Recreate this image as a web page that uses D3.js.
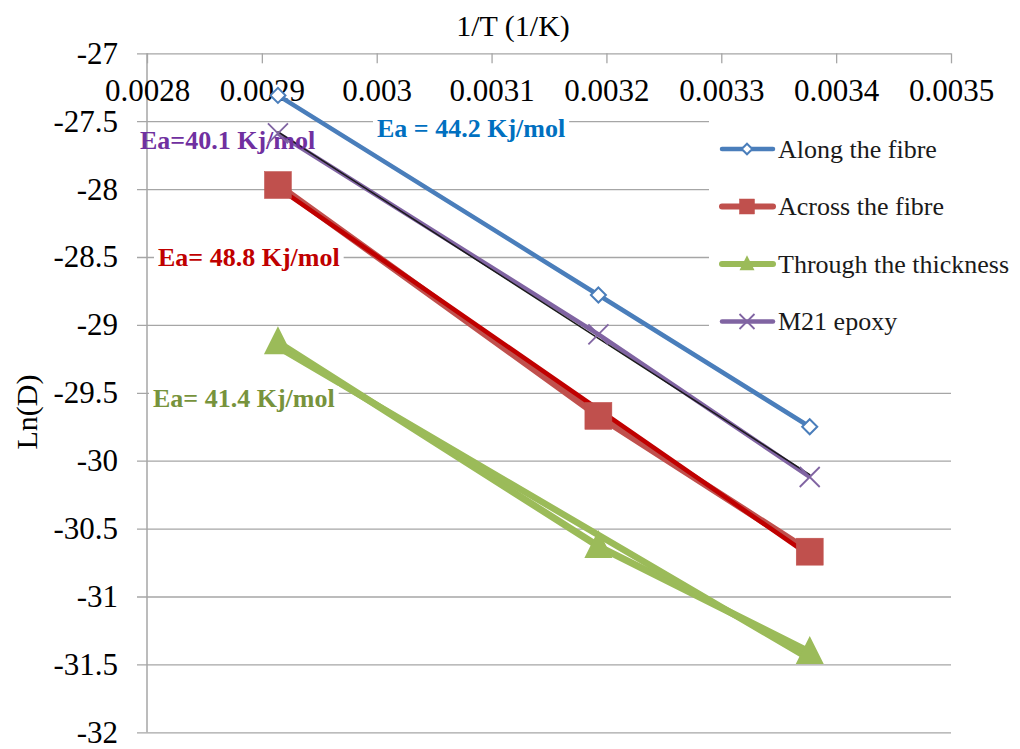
<!DOCTYPE html>
<html>
<head>
<meta charset="utf-8">
<title>Ln(D) vs 1/T</title>
<script src="https://d3js.org/d3.v7.min.js"></script>
<style>
  body { margin: 0; padding: 0; background: #fff; overflow: hidden; }
  svg text { font-family: "Liberation Serif", "Times New Roman", serif; }
</style>
</head>
<body>
<script>
// data
var invT = [0.002914, 0.003193, 0.003377];
var alongFibre = [-27.31, -28.78, -29.75];
var acrossFibre = [-27.97, -29.67, -30.67];
var throughThickness = [-29.13, -30.63, -31.41];
var m21Epoxy = [-27.59, -29.07, -30.12];
var seriesNames = ["Along the fibre", "Across the fibre", "Through the thickness", "M21 epoxy"];
var xTicks = [0.0028, 0.0029, 0.003, 0.0031, 0.0032, 0.0033, 0.0034, 0.0035];
var yTicks = [-27, -27.5, -28, -28.5, -29, -29.5, -30, -30.5, -31, -31.5, -32];
var eaLabels = ["Ea = 44.2 Kj/mol", "Ea= 48.8 Kj/mol", "Ea= 41.4 Kj/mol", "Ea=40.1 Kj/mol"];

var serif = "'Liberation Serif', 'Times New Roman', serif";
var width = 1020, height = 749;
var svg = d3.select("body").append("svg").attr("width", width).attr("height", height);

var x = d3.scaleLinear().domain([0.0028, 0.0035]).range([147, 951]);
var y = d3.scaleLinear().domain([-27, -32]).range([53.3, 732.3]);

var series = [
  { name: seriesNames[0], vals: alongFibre, color: "#4a7ebb", w: 4.5, marker: "diamond", trend: null, label: eaLabels[0], lc: "#0070c0" },
  { name: seriesNames[1], vals: acrossFibre, color: "#c0504d", w: 7, marker: "square", trend: { c: "#c00000", w: 4.5 }, label: eaLabels[1], lc: "#c00000" },
  { name: seriesNames[2], vals: throughThickness, color: "#9bbb59", w: 7, marker: "triangle", trend: { c: "#9bbb59", w: 6.5 }, label: eaLabels[2], lc: "#77933c" },
  { name: seriesNames[3], vals: m21Epoxy, color: "#8064a2", w: 4.5, marker: "x", trend: { c: "#1a1a1a", w: 1.5 }, label: eaLabels[3], lc: "#7030a0" }
];

// grid + y axis
var yAxis = d3.axisLeft(y).tickValues(yTicks).tickSize(-(951 - 137)).tickPadding(20)
  .tickFormat(function(d) { return d; });
var gy = svg.append("g").attr("transform", "translate(137,0)").call(yAxis);
gy.attr("font-family", null);
gy.select(".domain").remove();
gy.selectAll(".tick line").attr("stroke", "#a6a6a6").attr("stroke-width", 1.3);
gy.selectAll(".tick text").attr("x", -19).attr("fill", "#000")
  .style("font-family", serif).style("font-size", "31px");
svg.append("line").attr("x1", 147).attr("x2", 147).attr("y1", y(-27)).attr("y2", y(-32))
  .attr("stroke", "#a6a6a6").attr("stroke-width", 1.5);

// top x axis with ticks going down
var xAxis = d3.axisBottom(x).tickValues(xTicks).tickSize(10).tickPadding(16).tickSizeOuter(0)
  .tickFormat(function(d) { return +d.toFixed(4); });
var gx = svg.append("g").attr("transform", "translate(0," + y(-27) + ")").call(xAxis);
gx.attr("font-family", null);
gx.select(".domain").remove();
gx.selectAll(".tick line").attr("stroke", "#a6a6a6").attr("stroke-width", 1.3);
gx.selectAll(".tick text").attr("fill", "#000")
  .style("font-family", serif).style("font-size", "31px");

svg.append("text").attr("x", 513).attr("y", 36).attr("text-anchor", "middle")
  .attr("font-size", 30).text("1/T (1/K)");
svg.append("text").attr("transform", "translate(37,412) rotate(-90)").attr("text-anchor", "middle")
  .attr("font-size", 30).text("Ln(D)");

// series lines
var line = d3.line().x(function(d) { return x(d[0]); }).y(function(d) { return y(d[1]); });
series.forEach(function(s) {
  var pts = invT.map(function(t, i) { return [t, s.vals[i]]; });
  svg.append("path").attr("d", line(pts)).attr("fill", "none")
    .attr("stroke", s.color).attr("stroke-width", s.w).attr("stroke-linejoin", "round");
});

// linear trendlines (least squares of ln D on 1/T)
series.forEach(function(s) {
  if (!s.trend) return;
  var mx = d3.mean(invT), my = d3.mean(s.vals);
  var sxy = d3.sum(invT, function(t, i) { return (t - mx) * (s.vals[i] - my); });
  var sxx = d3.sum(invT, function(t) { return (t - mx) * (t - mx); });
  var b = sxy / sxx;
  var ends = [invT[0], invT[invT.length - 1]].map(function(t) { return [t, my + b * (t - mx)]; });
  svg.append("path").attr("d", line(ends)).attr("fill", "none")
    .attr("stroke", s.trend.c).attr("stroke-width", s.trend.w).attr("stroke-linecap", "round");
});

// Ea labels with white backing
var labelPos = [[377, 128], [158, 257], [153, 398], [140, 140]];
series.forEach(function(s, i) {
  var t = svg.append("text").attr("x", labelPos[i][0]).attr("y", labelPos[i][1]).attr("dy", "0.35em")
    .attr("font-size", 26).attr("font-weight", "bold").attr("fill", s.lc).text(s.label);
  var bb = t.node().getBBox();
  if (i < 3) {
    svg.insert("rect", function() { return t.node(); })
      .attr("x", bb.x - 4).attr("y", bb.y + 2).attr("width", bb.width + 8).attr("height", bb.height - 4)
      .attr("fill", "#fff");
  }
});

// markers
function drawMarker(g, type, cx, cy, sz, s) {
  if (type === "diamond") {
    g.append("path").attr("d", d3.symbol(d3.symbolDiamond2, sz * sz * 0.5)())
      .attr("transform", "translate(" + cx + "," + cy + ")")
      .attr("fill", "#fff").attr("stroke", s.color).attr("stroke-width", 2);
  } else if (type === "square") {
    g.append("rect").attr("x", cx - sz / 2).attr("y", cy - sz / 2).attr("width", sz).attr("height", sz)
      .attr("fill", "#c0504d").attr("stroke", "#c0504d").attr("stroke-width", 0.5);
  } else if (type === "triangle") {
    g.append("path").attr("d", "M" + cx + "," + (cy - sz * 0.58) + "L" + (cx + sz / 2) + "," + (cy + sz * 0.42) +
      "L" + (cx - sz / 2) + "," + (cy + sz * 0.42) + "Z").attr("fill", "#9bbb59");
  } else {
    var h = sz / 2;
    g.append("path").attr("d", "M" + (cx - h) + "," + (cy - h) + "L" + (cx + h) + "," + (cy + h) +
      "M" + (cx - h) + "," + (cy + h) + "L" + (cx + h) + "," + (cy - h))
      .attr("stroke", s.color).attr("stroke-width", 1.8).attr("fill", "none");
  }
}
var markerSize = { diamond: 17, square: 27, triangle: 28, x: 20 };
series.forEach(function(s) {
  invT.forEach(function(t, i) {
    drawMarker(svg, s.marker, x(t), y(s.vals[i]), markerSize[s.marker], s);
  });
});

// legend
var lg = svg.append("g");
lg.append("rect").attr("x", 709).attr("y", 118).attr("width", 311).attr("height", 225).attr("fill", "#fff");
var legendSize = { diamond: 12, square: 15, triangle: 15, x: 15 };
series.forEach(function(s, i) {
  var ly = 149 + i * 57.5;
  lg.append("line").attr("x1", 722).attr("x2", 773).attr("y1", ly).attr("y2", ly)
    .attr("stroke", s.color).attr("stroke-width", s.marker === "triangle" || s.marker === "square" ? 6 : 4.5)
    .attr("stroke-linecap", "round");
  drawMarker(lg, s.marker, 747, ly, legendSize[s.marker], s);
  lg.append("text").attr("x", 778).attr("y", ly).attr("dy", "0.33em").attr("font-size", 26)
    .attr("fill", "#1a1a1a").text(s.name);
});
</script>
</body>
</html>
